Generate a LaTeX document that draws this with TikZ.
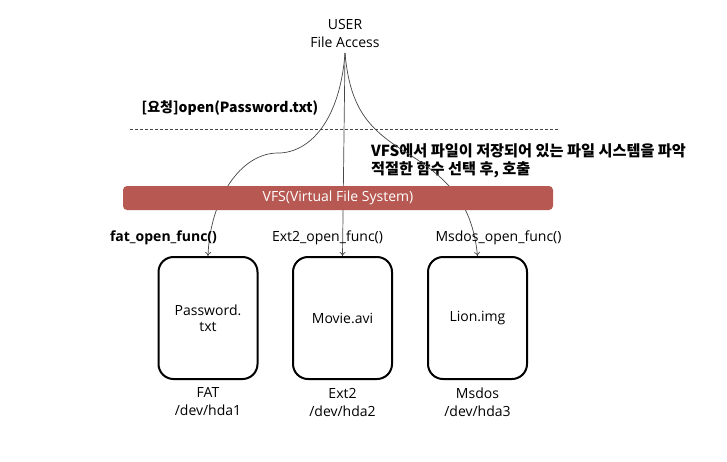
\documentclass[tikz,border=0pt]{standalone}
\usepackage{fontspec}
\setmainfont{Open Sans}
\newfontfamily\krfont{Noto Sans CJK KR}
\usetikzlibrary{arrows.meta}
\definecolor{vfsred}{RGB}{183,89,82}
\definecolor{linegray}{RGB}{70,70,70}
\begin{document}
\begin{tikzpicture}[x=1pt,y=-1pt,
  txt/.style={inner sep=0pt,align=center,font=\fontsize{14}{18}\selectfont},
  krbold/.style={inner sep=0pt,align=left,font=\krfont\bfseries\fontsize{14}{18}\selectfont},
  fsbox/.style={draw=black,line width=2pt,rounded corners=15pt,minimum width=99pt,minimum height=122pt,inner sep=0pt,align=center,font=\fontsize{14}{16}\selectfont},
  vfsbar/.style={fill=vfsred,rounded corners=4pt,minimum width=430pt,minimum height=24pt,inner sep=0pt,text=white,font=\fontsize{14}{16}\selectfont},
  conn/.style={draw=linegray,line width=0.7pt,-{To[length=4pt,width=6pt]}},
  sep/.style={draw=linegray,line width=0.9pt,dash pattern=on 3pt off 2pt}]
\useasboundingbox (0,0) rectangle (727,461);
% texts on top
\node[txt] (user) at (345,33) {USER\\File Access};
\coordinate (src) at (345,53);
\node[krbold,anchor=center] (req) at (230,108) {[요청]open(Password.txt)};
\coordinate (sepL) at (130,129);
\coordinate (sepR) at (558,129);
\draw[sep] (sepL) -- (sepR);
\node[krbold,anchor=north west,font=\krfont\bfseries\fontsize{15.2}{18.5}\selectfont] (note) at (371,143) {VFS에서 파일이 저장되어 있는 파일 시스템을 파악\\적절한 함수 선택 후, 호출};
% file system boxes
\node[fsbox] (b1) at (208,318) {Password.\\txt};
\node[fsbox] (b2) at (342.5,318) {Movie.avi};
\node[fsbox] (b3) at (477.5,318) {Lion.img};
% connectors
\draw[conn] (src) .. controls (340,120) and (310,153) .. (278,153)
  .. controls (240,153) and (210,200) .. (b1.north);
\draw[conn] (src) -- (b2.north);
\draw[conn] (src) .. controls (350,110) and (370,130) .. (407,153)
  .. controls (445,177) and (472,200) .. (b3.north);
% VFS bar over the connectors
\node[vfsbar] (vfs) at (338,198) {VFS(Virtual File System)};
% function labels
\node[txt,font=\bfseries\fontsize{14}{18}\selectfont] (f1) at (163.5,238) {fat\_open\_func()};
\node[txt] (f2) at (327.5,238) {Ext2\_open\_func()};
\node[txt] (f3) at (498.5,238) {Msdos\_open\_func()};
% device labels
\node[txt] (d1) at (208,402) {FAT\\/dev/hda1};
\node[txt] (d2) at (342.5,402) {Ext2\\/dev/hda2};
\node[txt] (d3) at (477.5,402) {Msdos\\/dev/hda3};
\end{tikzpicture}
\end{document}
